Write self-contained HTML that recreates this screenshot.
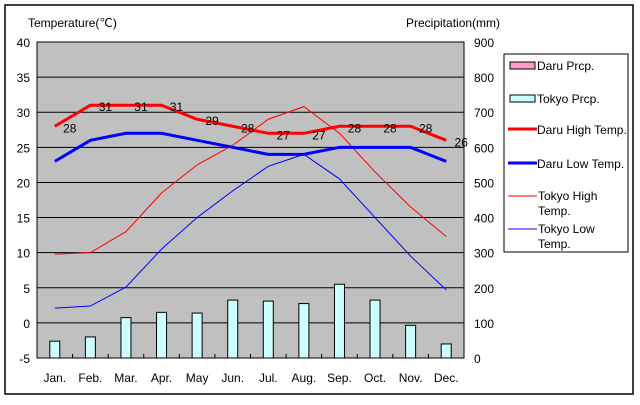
<!DOCTYPE html>
<html><head><meta charset="utf-8"><style>
body{margin:0;background:#fff;}
svg text{font-family:"Liberation Sans",sans-serif;font-size:12px;fill:#000;}
</style></head><body>
<svg width="640" height="400" xmlns="http://www.w3.org/2000/svg">
<rect x="5" y="5" width="628" height="389" fill="#fff" stroke="#000" stroke-width="1.5"/>
<rect x="37" y="42" width="427" height="316" fill="#c0c0c0" stroke="#000"/>
<g id="grid"></g><g id="bars"></g><g id="lines"></g><g id="labels"></g><g id="axes"></g>
<text x="28" y="27">Temperature(℃)</text>
<text x="406" y="27">Precipitation(mm)</text>
<g>
<rect x="504" y="54" width="124" height="198" fill="#fff" stroke="#000"/>
<rect x="510" y="62" width="25" height="7" fill="#ff99cc" stroke="#000"/>
<text x="537" y="70">Daru Prcp.</text>
<rect x="510" y="95" width="25" height="7" fill="#ccffff" stroke="#000"/>
<text x="537" y="103">Tokyo Prcp.</text>
<line x1="508" y1="129" x2="537" y2="129" stroke="#f00" stroke-width="3"/>
<text x="537" y="134">Daru High Temp.</text>
<line x1="508" y1="163" x2="537" y2="163" stroke="#00f" stroke-width="3"/>
<text x="537" y="168">Daru Low Temp.</text>
<line x1="508" y1="196" x2="537" y2="196" stroke="#f00" stroke-width="1"/>
<text x="538" y="200">Tokyo High</text>
<text x="538" y="215">Temp.</text>
<line x1="508" y1="229" x2="537" y2="229" stroke="#00f" stroke-width="1"/>
<text x="538" y="233">Tokyo Low</text>
<text x="538" y="248">Temp.</text>
</g>
</svg>
<script>
const months=["Jan.","Feb.","Mar.","Apr.","May","Jun.","Jul.","Aug.","Sep.","Oct.","Nov.","Dec."];
const daruHigh=[28,31,31,31,29,28,27,27,28,28,28,26];
const daruLow=[23,26,27,27,26,25,24,24,25,25,25,23];
const tokyoHigh=[9.8,10,13,18.5,22.5,25.3,29,30.8,27,21.5,16.5,12.3];
const tokyoLow=[2.1,2.4,5.1,10.5,15,18.8,22.3,24,20.5,15,9.5,4.7];
const tokyoPrcp=[48,60,115,130,128,165,162,155,210,165,93,40];
const tempTicks=[-5,0,5,10,15,20,25,30,35,40];
const prcpTicks=[0,100,200,300,400,500,600,700,800,900];
const NS="http://www.w3.org/2000/svg";
const L=37,R=464,T=42,B=358,step=(R-L)/12;
const xm=i=>L+step*(i+0.5);
const yt=v=>T+(40-v)*(B-T)/45;
const yp=v=>B-v*(B-T)/900;
function mk(tag,attrs,parent){const e=document.createElementNS(NS,tag);for(const k in attrs)e.setAttribute(k,attrs[k]);document.getElementById(parent).appendChild(e);return e;}
tempTicks.forEach(v=>{
 if(v>-5&&v<40){const g=mk("line",{x1:L,x2:R,y1:yt(v),y2:yt(v),stroke:"#000"},"grid");
 
 }
 const t=mk("text",{x:30,y:yt(v)+5,"text-anchor":"end","font-size":"13"},"axes");t.textContent=v;
 
 
});
prcpTicks.forEach(v=>{
 const t=mk("text",{x:474,y:yp(v)+5,"font-size":"13"},"axes");t.textContent=v;
 
 
});
months.forEach((m,i)=>{
 const t=mk("text",{x:xm(i),y:382,"text-anchor":"middle"},"axes");t.textContent=m;
 
 
 mk("line",{x1:L+step*(i+1),x2:L+step*(i+1),y1:B,y2:B-4,stroke:"#000"},"axes");
 const b=mk("rect",{x:xm(i)-5,y:yp(tokyoPrcp[i]),width:10,height:B-yp(tokyoPrcp[i]),fill:"#ccffff",stroke:"#000"},"bars");
 
 
});
function line(arr,col,w,name){
 const p=mk("polyline",{points:arr.map((v,i)=>xm(i)+","+yt(v)).join(" "),fill:"none",stroke:col,"stroke-width":w},"lines");
 
 
}
line(tokyoHigh,"#f00",1,"tokyo-high-line");
line(tokyoLow,"#00f",1,"tokyo-low-line");
line(daruLow,"#00f",3,"daru-low-line");
line(daruHigh,"#f00",3,"daru-high-line");
daruHigh.forEach((v,i)=>{
 const t=mk("text",{x:xm(i)+15,y:yt(v)+6,"text-anchor":"middle","font-size":"13"},"labels");t.textContent=v;
 
 
});
</script>
</body></html>
